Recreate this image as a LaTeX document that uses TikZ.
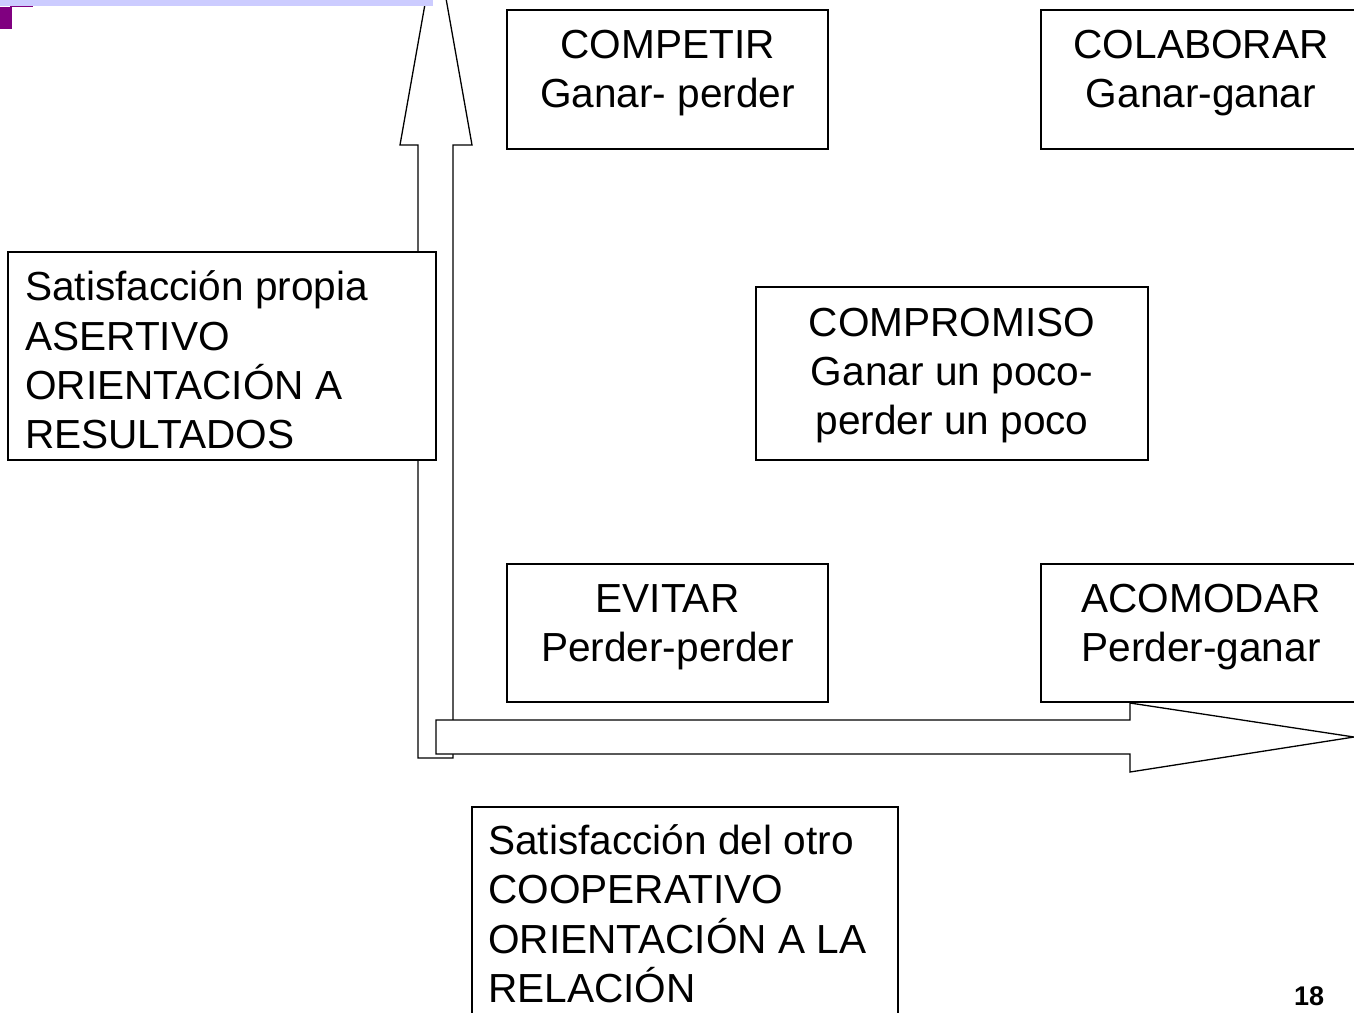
\documentclass[tikz,border=0pt]{standalone}
\usepackage{fontspec}
\setmainfont{Liberation Sans}
\definecolor{lavbar}{RGB}{204,204,255}
\definecolor{purp}{RGB}{128,0,128}
\begin{document}
\begin{tikzpicture}[x=1pt,y=-1pt,
  box/.style={draw=black, fill=white, line width=1.3pt, inner sep=0pt},
  lbl/.style={font=\fontsize{40.6}{49.3}\selectfont, inner sep=0pt, align=center},
  lbll/.style={font=\fontsize{40.6}{49.3}\selectfont, inner sep=0pt, align=left, anchor=west},
  bigarrow/.style={draw=black, fill=white, line width=1.3pt, line join=miter}]
\useasboundingbox (0,0) rectangle (1354,1012);
\clip (0,0) rectangle (1354,1012);
% axes arrows
\draw[bigarrow] (418,758) -- (418,145) -- (400,145) -- (436,-58) -- (472,145) -- (453,145) -- (453,758) -- cycle;
\draw[bigarrow] (436,720) -- (1130,720) -- (1130,703) -- (1354,737) -- (1130,772) -- (1130,754) -- (436,754) -- cycle;
% header decoration
\fill[lavbar] (0,0) rectangle (433,6);
\fill[purp] (0,7) rectangle (12,29);
\fill[purp] (10,5.5) rectangle (33,7.3);
% boxes
\node[box, minimum width=321pt, minimum height=139pt] (competir) at (667.5,79.5) {};
\node[box, minimum width=320pt, minimum height=139pt] (colaborar) at (1201,79.5) {};
\node[box, minimum width=392pt, minimum height=173pt] (compromiso) at (952,373.5) {};
\node[box, minimum width=321pt, minimum height=138pt] (evitar) at (667.5,633) {};
\node[box, minimum width=320pt, minimum height=138pt] (acomodar) at (1201,633) {};
\node[box, minimum width=428pt, minimum height=208pt] (propia) at (222,356) {};
\node[box, minimum width=426pt, minimum height=223pt] (otro) at (685,918.5) {};
% texts
\node[lbl] (competirT) at (667.5,73) {\strut COMPETIR\\Ganar- perder\strut};
\node[lbl] (colaborarT) at (1201,73) {\strut COLABORAR\\Ganar-ganar\strut};
\node[lbl] (compromisoT) at (952,375.7) {\strut COMPROMISO\\Ganar un poco-\\perder un poco\strut};
\node[lbl] (evitarT) at (667.5,627) {\strut EVITAR\\Perder-perder\strut};
\node[lbl] (acomodarT) at (1201,627) {\strut ACOMODAR\\Perder-ganar\strut};
\node[lbll] (propiaT) at (25,365) {\strut Satisfacción propia\\ASERTIVO\\ORIENTACIÓN A\\RESULTADOS\strut};
\node[lbll] (otroT) at (488,918.7) {\strut Satisfacción del otro\\COOPERATIVO\\ORIENTACIÓN A LA\\RELACIÓN\strut};
\node[font=\fontsize{27}{30}\selectfont\bfseries, inner sep=0pt] (pagenum) at (1309,996.5) {18};
\end{tikzpicture}
\end{document}
